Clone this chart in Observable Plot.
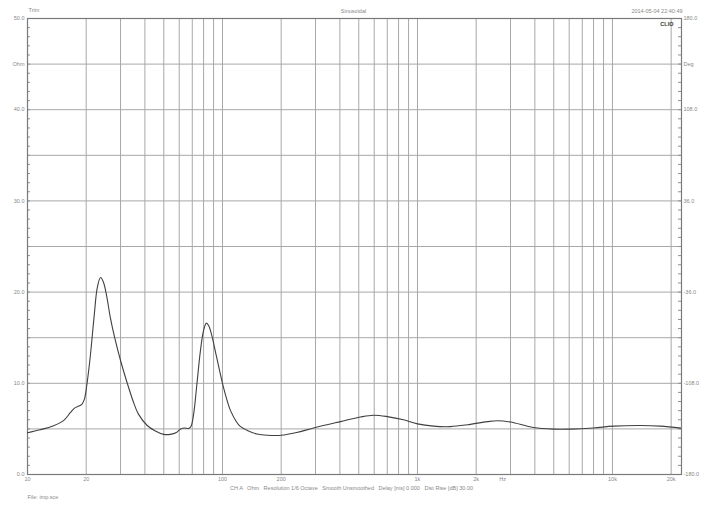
<!DOCTYPE html>
<html>
<head>
<meta charset="utf-8">
<script src="https://cdn.jsdelivr.net/npm/d3@7"></script>
<script src="https://cdn.jsdelivr.net/npm/@observablehq/plot@0.6"></script>
<style>
  html, body { margin: 0; padding: 0; background: #fff; }
</style>
</head>
<body>
<div id="chart"></div>
<script>
// Impedance curve (frequency in Hz, impedance in Ohm)
const freq = [10, 11.6, 13.6, 15.3, 16.6, 17.5, 18.3, 19.0, 19.6, 20.2, 21, 22, 22.8, 23.7, 24.5, 25.5, 26.6, 28, 30, 32.6, 35, 37, 41, 45, 50, 54, 58, 61, 64, 67, 69, 71, 74, 77, 80, 82.7, 85, 88, 93, 100, 105, 110, 117, 123, 135, 150, 170, 200, 240, 293, 403, 510, 595, 701, 848, 1000, 1208, 1476, 1805, 2285, 2572, 3000, 3935, 4980, 6090, 7995, 10120, 13930, 17620, 22600];
const ohm  = [4.57, 4.9, 5.35, 5.9, 6.8, 7.3, 7.5, 7.7, 8.3, 10.0, 13.0, 17.5, 20.5, 21.6, 21.1, 19.5, 17.2, 15.0, 12.5, 9.9, 7.9, 6.65, 5.4, 4.8, 4.4, 4.4, 4.6, 5.0, 5.1, 5.05, 5.3, 6.5, 10.0, 13.5, 15.8, 16.6, 16.3, 15.3, 13.0, 10.0, 8.3, 7.0, 5.9, 5.3, 4.8, 4.45, 4.3, 4.3, 4.6, 5.1, 5.8, 6.3, 6.5, 6.35, 6.0, 5.55, 5.3, 5.25, 5.45, 5.8, 5.9, 5.75, 5.15, 4.97, 4.97, 5.1, 5.3, 5.37, 5.3, 5.08];

// Axes
const xDomain = [10, 22600];
const yDomain = [0, 50];
const xGrid = [20, 30, 40, 50, 60, 70, 80, 90, 100, 200, 300, 400, 500, 600, 700, 800, 900, 1000, 2000, 3000, 4000, 5000, 6000, 7000, 8000, 9000, 10000, 20000];
const xTickValues = [10, 20, 50, 100, 200, 500, 1000, 2000, 2730, 5000, 10000, 20000];
const xTickLabels = ["10", "20", "50", "100", "200", "500", "1k", "2k", "Hz", "5k", "10k", "20k"];
const yGrid = [5, 10, 15, 20, 25, 30, 35, 40, 45];
const yLeftTicks = [0, 10, 20, 30, 40, 45, 50];
const yLeftLabels = ["0.0", "10.0", "20.0", "30.0", "40.0", "Ohm", "50.0"];
const yRightLabels = ["-180.0", "-108.0", "-36.0", "36.0", "108.0", "Deg", "180.0"];
const yMinor = d3.range(1, 50);

// Texts
const topLeft = ["Trim"];
const topCenter = ["Sinusoidal"];
const topRight = ["2014-05-04 22:40:49"];
const brand = ["CLIO"];
const caption = ["CH A   Ohm   Resolution 1/6 Octave   Smooth Unsmoothed   Delay [ms] 0.000   Dist Rise [dB] 30.00"];
const fileNote = ["File: imp.sce"];

const data = freq.map((f, i) => ({f, z: ohm[i]}));

const W = 708, H = 510, mL = 27, mR = 27, mT = 18, mB = 36;
const innerW = W - mL - mR;

const grid = "#a8a8a8";
const textCol = "#888888";

const chart = Plot.plot({
  width: W,
  height: H,
  marginLeft: mL,
  marginRight: mR,
  marginTop: mT,
  marginBottom: mB,
  style: {fontSize: "5.5px", fontFamily: "Liberation Sans, Arial, sans-serif", color: textCol, background: "#fff"},
  x: {type: "log", domain: xDomain},
  y: {domain: yDomain},
  marks: [
    Plot.ruleX(xGrid, {x: d => d, stroke: grid, strokeWidth: 1}),
    Plot.ruleY(yGrid, {y: d => d, stroke: grid, strokeWidth: 1}),
    Plot.ruleY(yMinor, {y: d => d, stroke: "#909090", insetRight: innerW - 3}),
    Plot.ruleY(yMinor, {y: d => d, stroke: "#909090", insetLeft: innerW - 3}),
    Plot.frame({stroke: "#7a7a7a", strokeWidth: 1.2}),
    Plot.line(data, {x: "f", y: "z", stroke: "#404040", strokeWidth: 1.1, curve: "catmull-rom", clip: true}),
    Plot.axisX({ticks: xTickValues, tickFormat: (d) => xTickLabels[xTickValues.indexOf(d)], tickSize: 0, tickPadding: 3, label: null, fill: textCol}),
    Plot.axisY({anchor: "left", ticks: yLeftTicks, tickFormat: (d) => yLeftLabels[yLeftTicks.indexOf(d)], tickSize: 0, tickPadding: 3, label: null, fill: textCol}),
    Plot.axisY({anchor: "right", ticks: yLeftTicks, tickFormat: (d) => yRightLabels[yLeftTicks.indexOf(d)], tickSize: 0, tickPadding: 2, label: null, fill: textCol}),
    Plot.text(topLeft, {text: d => d, frameAnchor: "top-left", textAnchor: "start", dx: 1, dy: -10, fill: textCol}),
    Plot.text(topCenter, {text: d => d, frameAnchor: "top", dx: -1, dy: -9, fill: textCol}),
    Plot.text(topRight, {text: d => d, frameAnchor: "top-right", textAnchor: "end", dx: 1, dy: -9, fill: textCol}),
    Plot.text(brand, {text: d => d, frameAnchor: "top-right", textAnchor: "end", dx: -8, dy: 4, fill: "#333", fontWeight: "bold"}),
    Plot.text(caption, {text: d => d, frameAnchor: "bottom", dx: -3, dy: 15, fill: textCol}),
    Plot.text(fileNote, {text: d => d, frameAnchor: "bottom-left", textAnchor: "start", dx: 0, dy: 24, fill: textCol})
  ]
});

document.getElementById("chart").appendChild(chart);
</script>
</body>
</html>
